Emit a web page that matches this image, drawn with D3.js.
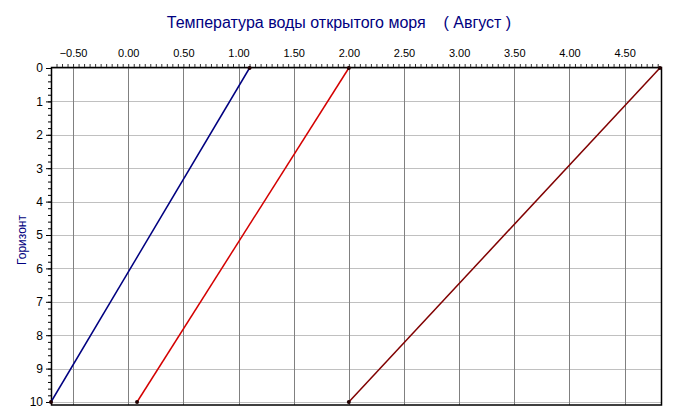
<!DOCTYPE html>
<html lang="ru">
<head>
<meta charset="UTF-8">
<title>Температура воды открытого моря</title>
<script src="https://d3js.org/d3.v7.min.js"></script>
<style>
    body { margin: 0; background: #fff; }
    svg { display: block; font-family: "Liberation Sans", Arial, sans-serif; }
    .tick text { font-size: 11px; fill: #000; }
    .yaxis .tick text { font-size: 12px; }
</style>
</head>
<body>
<div id="chart"></div>
<script>
    // data: horizon (depth) vs temperature
    const horizons = [0, 10];
    const seriesNames = ["s1", "s2", "s3"];
    const tempsBlue = [1.1, -0.7];
    const tempsRed = [2.0, 0.08];
    const tempsDarkRed = [4.82, 2.0];
    const seriesColors = ["#000080", "#d40000", "#800000"];
    const xTickValues = [-0.5, 0, 0.5, 1, 1.5, 2, 2.5, 3, 3.5, 4, 4.5];
    const yTickValues = [0, 1, 2, 3, 4, 5, 6, 7, 8, 9, 10];

    const W = 675, H = 419;
    const plotLeft = 51, plotRight = 661, plotTop = 68, plotBottom = 405;

    const svg = d3.select("#chart").append("svg")
        .attr("width", W).attr("height", H);

    const x = d3.scaleLinear().domain([-0.7, 4.83]).range([plotLeft, plotRight]);
    const y = d3.scaleLinear().domain([0, 10]).range([plotTop, 402]);

    // horizontal grid
    svg.append("g").selectAll("line")
        .data(yTickValues)
        .join("line")
        .attr("x1", plotLeft).attr("x2", plotRight)
        .attr("y1", d => Math.round(y(d)) + 0.5).attr("y2", d => Math.round(y(d)) + 0.5)
        .attr("stroke", "#c0c0c0");

    // vertical grid
    svg.append("g").selectAll("line")
        .data(xTickValues)
        .join("line")
        .attr("x1", d => Math.round(x(d)) + 0.5).attr("x2", d => Math.round(x(d)) + 0.5)
        .attr("y1", plotTop).attr("y2", plotBottom)
        .attr("stroke", "#808080");

    // frame
    svg.append("rect")
        .attr("x", plotLeft + 0.5).attr("y", plotTop - 0.5)
        .attr("width", plotRight - plotLeft).attr("height", plotBottom - plotTop + 0.5)
        .attr("fill", "none").attr("stroke", "#000").attr("stroke-width", 1.5);

    // top axis, minor ticks every 0.05
    const xMinor = d3.range(-0.65, 4.83, 0.05);
    svg.append("g")
        .attr("transform", `translate(0,${plotTop - 1})`)
        .call(d3.axisTop(x).tickValues(xMinor).tickSize(3).tickFormat(""))
        .call(g => g.select(".domain").remove())
        .call(g => g.selectAll("line").attr("stroke", "#333"));

    svg.append("g")
        .attr("transform", `translate(0,${plotTop - 1})`)
        .call(d3.axisTop(x).tickValues(xTickValues).tickSize(0).tickPadding(10).tickFormat(d3.format(".2f")))
        .call(g => g.select(".domain").remove())
        .call(g => g.selectAll("text").attr("font-family", "Liberation Sans, Arial, sans-serif"));

    // left axis, minor ticks every 0.2
    const yMinor = d3.range(0, 10.01, 0.2);
    svg.append("g")
        .attr("transform", `translate(${plotLeft},0)`)
        .call(d3.axisLeft(y).tickValues(yMinor).tickSize(3).tickFormat(""))
        .call(g => g.select(".domain").remove())
        .call(g => g.selectAll("line").attr("stroke", "#000"));

    svg.append("g")
        .attr("class", "yaxis")
        .attr("transform", `translate(${plotLeft},0)`)
        .call(d3.axisLeft(y).tickValues(yTickValues).tickSize(5).tickPadding(3).tickFormat(d3.format("d")))
        .call(g => g.select(".domain").remove())
        .call(g => g.selectAll("line").attr("stroke", "#000"))
        .call(g => g.selectAll("text").attr("font-family", "Liberation Sans, Arial, sans-serif"));

    // series lines
    const series = [tempsBlue, tempsRed, tempsDarkRed].map((vals, i) => ({
        name: seriesNames[i],
        color: seriesColors[i],
        points: vals.map((t, j) => ({ t: t, h: horizons[j] }))
    }));

    const line = d3.line().x(d => x(d.t)).y(d => y(d.h));

    svg.append("g").selectAll("path")
        .data(series)
        .join("path")
        .attr("fill", "none")
        .attr("stroke", d => d.color)
        .attr("stroke-width", 1.5)
        .attr("d", d => line(d.points));

    svg.append("g").selectAll("circle")
        .data(series.flatMap(s => s.points))
        .join("circle")
        .attr("cx", d => x(d.t)).attr("cy", d => y(d.h))
        .attr("r", 2)
        .attr("fill", "#200000");

    // title
    svg.append("text")
        .attr("x", 339).attr("y", 28)
        .attr("text-anchor", "middle")
        .attr("font-size", 16)
        .attr("fill", "#000080")
        .attr("xml:space", "preserve")
        .text("Температура воды открытого моря    ( Август )");

    // y axis label
    svg.append("text")
        .attr("transform", "translate(26,240) rotate(-90)")
        .attr("text-anchor", "middle")
        .attr("font-size", 12)
        .attr("fill", "#000080")
        .text("Горизонт");
</script>
</body>
</html>
